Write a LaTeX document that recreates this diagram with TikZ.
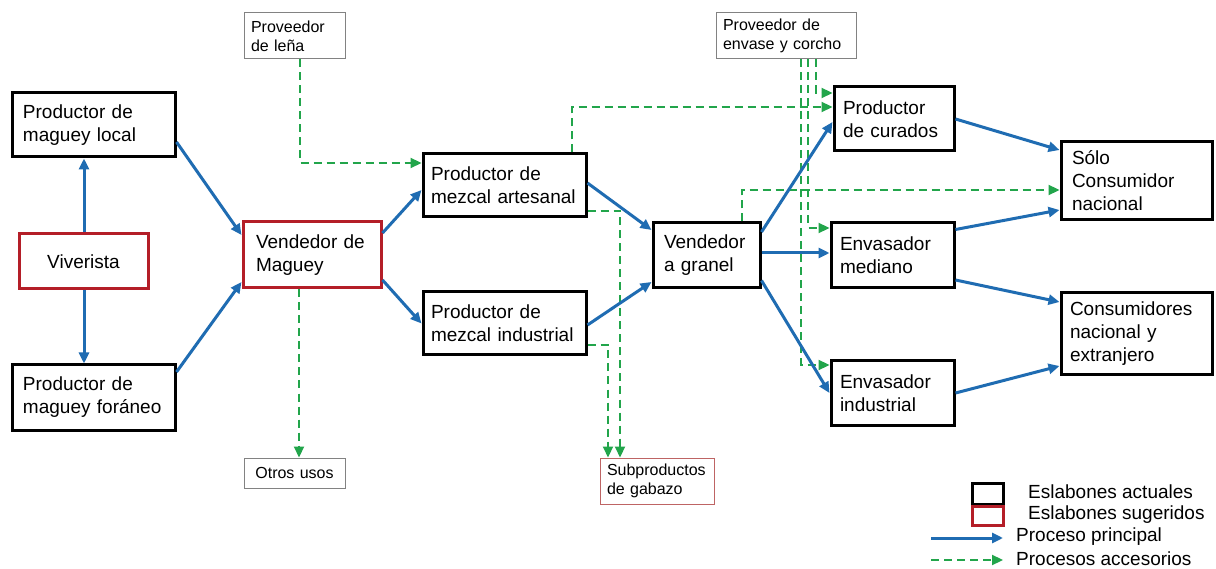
\documentclass[tikz,border=0pt]{standalone}
\usepackage{fontspec}
\setmainfont{Liberation Sans}
\usetikzlibrary{arrows.meta,calc}
\definecolor{cblue}{RGB}{31,108,178}
\definecolor{cgreen}{RGB}{34,165,75}
\definecolor{cred}{RGB}{180,30,40}
\definecolor{cgray}{RGB}{130,130,130}
\definecolor{cpink}{RGB}{190,100,100}
\begin{document}
\begin{tikzpicture}[x=1pt,y=-1pt,
  main/.style={draw=black, line width=3pt, align=left, inner xsep=11pt, inner ysep=0pt, font=\fontsize{19}{23}\selectfont},
  sugg/.style={main, draw=cred},
  aux/.style={draw=cgray, line width=1pt, align=left, inner xsep=7pt, inner ysep=0pt, font=\fontsize{16}{19}\selectfont},
  flow/.style={draw=cblue, line width=3pt, -{Triangle[length=11pt,width=10pt]}},
  acc/.style={draw=cgreen, line width=2.2pt, dash pattern=on 8pt off 5pt, -{Triangle[length=11pt,width=10pt]}},
  legtext/.style={anchor=west, inner sep=0pt, font=\fontsize{19}{23}\selectfont},
]
\useasboundingbox (0,0) rectangle (1216,569);
\fill[white] (0,0) rectangle (1216,569);

% main chain
\node[main, minimum width=163pt, minimum height=64pt, text width=141pt] (loc) at (93.5,125) {Productor de\\maguey local};
\node[sugg, align=center, minimum width=129pt, minimum height=55pt, text width=107pt] (viv) at (83.5,261.5) {Viverista};
\node[main, minimum width=163pt, minimum height=65pt, text width=141pt] (for) at (93.5,397.5) {Productor de\\maguey for\'aneo};
\node[sugg, inner xsep=13pt, minimum width=138pt, minimum height=66pt, text width=112pt] (vm) at (312,255) {Vendedor de\\Maguey};
\node[aux, minimum width=101pt, minimum height=46pt, text width=87pt] (lena) at (294.5,36) {Proveedor\\de leña};
\node[aux, align=center, minimum width=101pt, minimum height=30pt, text width=87pt] (otros) at (294.5,473) {Otros usos};
\node[main, inner xsep=8pt, minimum width=163pt, minimum height=63pt, text width=147pt] (art) at (504.5,185.5) {Productor de\\mezcal artesanal};
\node[main, inner xsep=8pt, minimum width=163pt, minimum height=63pt, text width=147pt] (ind) at (504.5,323.5) {Productor de\\mezcal industrial};
\node[aux, draw=cpink, minimum width=114pt, minimum height=46pt, text width=100pt] (sub) at (657,481) {Subproductos\\de gabazo};
\node[main, minimum width=107pt, minimum height=65pt, text width=85pt] (gra) at (706.5,255.5) {Vendedor\\a granel};
\node[aux, minimum width=140pt, minimum height=46pt, text width=126pt] (env) at (786,36) {Proveedor de\\envase y corcho};
\node[main, inner xsep=9pt, minimum width=120pt, minimum height=64pt, text width=102pt] (cur) at (894,119) {Productor\\de curados};
\node[main, inner xsep=9pt, minimum width=123pt, minimum height=65pt, text width=105pt] (med) at (892.5,255.5) {Envasador\\mediano};
\node[main, inner xsep=9pt, minimum width=123pt, minimum height=64pt, text width=105pt] (ein) at (892.5,393) {Envasador\\industrial};
\node[main, inner xsep=11pt, minimum width=151pt, minimum height=78pt, text width=129pt] (solo) at (1136.5,181) {Sólo\\Consumidor\\nacional};
\node[main, inner xsep=9pt, minimum width=151pt, minimum height=82pt, text width=133pt] (cons) at (1136.5,334) {Consumidores\\nacional y\\extranjero};

% accessory processes (green dashed)
\draw[acc] ([xshift=5.5pt]lena.south) |- ([yshift=22.5pt]art.west);
\draw[acc] ([xshift=-13pt]vm.south) -- ([xshift=4.5pt]otros.north);
\draw[acc] ([xshift=67.5pt]art.north) |- ([yshift=12pt]cur.west);
\draw[acc] ([xshift=30pt]env.south) |- ([yshift=26pt]cur.west);
\draw[acc] ([xshift=22pt]env.south) |- ([yshift=27.5pt]med.west);
\draw[acc] ([xshift=15pt]env.south) |- ([yshift=28pt]ein.west);
\draw[acc] ([yshift=-25.5pt]art.east) -| ([xshift=-37pt]sub.north);
\draw[acc] ([yshift=-21.5pt]ind.east) -| ([xshift=-49pt]sub.north);
\draw[acc] ([xshift=35.5pt]gra.north) |- ([yshift=-9pt]solo.west);

% main process (blue)
\draw[flow] ([xshift=0.5pt]viv.north) -- ([xshift=-9.5pt]loc.south);
\draw[flow] ([xshift=0.5pt]viv.south) -- ([xshift=-9.5pt]for.north);
\draw[flow] ([yshift=-17pt]loc.east) -- ([yshift=20pt]vm.west);
\draw[flow] ([yshift=25.5pt]for.east) -- ([yshift=-27pt]vm.west);
\draw[flow] ([yshift=22pt]vm.east) -- ([yshift=-4.5pt]art.west);
\draw[flow] ([yshift=-25pt]vm.east) -- (ind.west);
\draw[flow] ([yshift=2.5pt]art.east) -- ([yshift=25.5pt]gra.west);
\draw[flow] ([yshift=-1.5pt]ind.east) -- ([yshift=-26.5pt]gra.west);
\draw[flow] ([yshift=23.5pt]gra.east) -- ([yshift=-3pt]cur.west);
\draw[flow] ([yshift=2.5pt]gra.east) -- ([yshift=2.5pt]med.west);
\draw[flow] ([yshift=-25pt]gra.east) -- (ein.west);
\draw[flow] (cur.east) -- ([yshift=31pt]solo.west);
\draw[flow] ([yshift=26pt]med.east) -- ([yshift=-29pt]solo.west);
\draw[flow] ([yshift=-24.5pt]med.east) -- ([yshift=32pt]cons.west);
\draw[flow] (ein.east) -- ([yshift=-32pt]cons.west);

% legend
\node[draw=black, line width=3pt, minimum width=31pt, minimum height=21pt, inner sep=0pt] (lb1) at (987.5,493.5) {};
\node[draw=cred, line width=3pt, minimum width=31pt, minimum height=19pt, inner sep=0pt] (lb2) at (987.5,515.5) {};
\node[legtext] (lt1) at (1028,492) {Eslabones actuales};
\node[legtext] (lt2) at (1028,515) {Eslabones sugeridos};
\coordinate (la1) at (931,538);
\coordinate (la2) at (1003,538);
\coordinate (lg1) at (931,560);
\coordinate (lg2) at (1003,560);
\draw[flow] (la1) -- (la2);
\draw[acc] (lg1) -- (lg2);
\node[legtext] (lt3) at (1016,537) {Proceso principal};
\node[legtext] (lt4) at (1016,559) {Procesos accesorios};
\end{tikzpicture}
\end{document}
